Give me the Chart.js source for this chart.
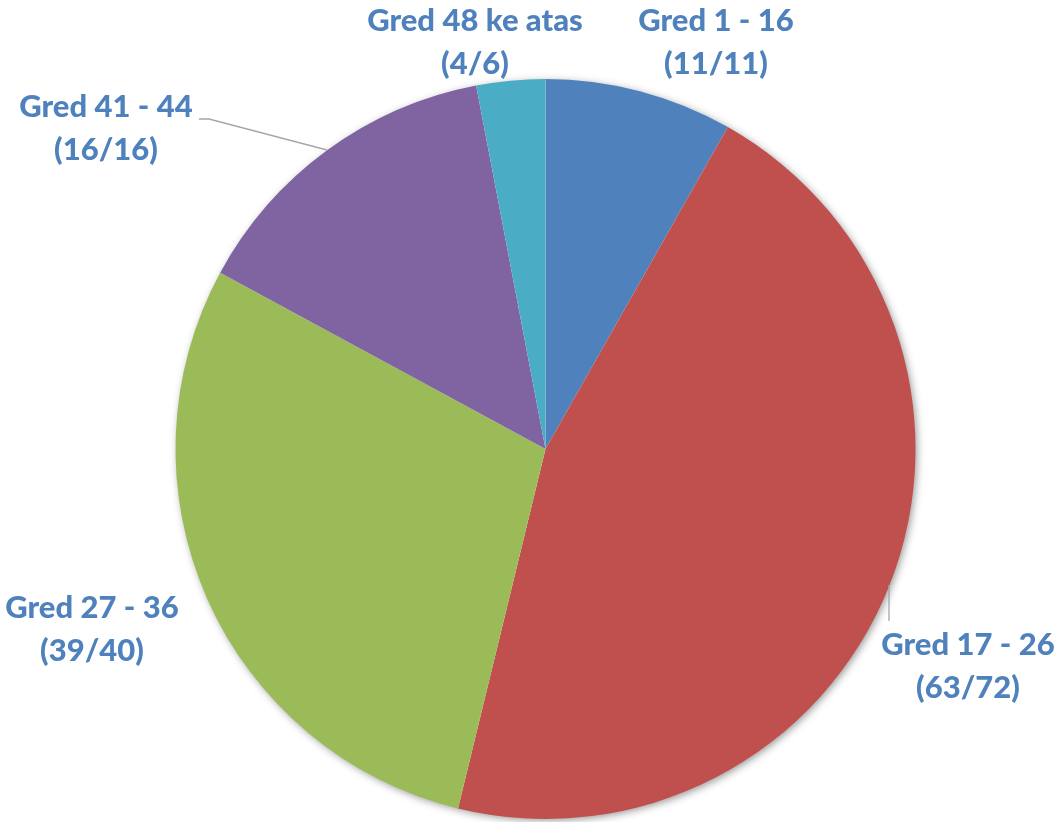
<!DOCTYPE html>
<html><head><meta charset="utf-8">
<script src="https://cdn.jsdelivr.net/npm/chart.js@4/dist/chart.umd.min.js"></script>
<style>html,body{margin:0;padding:0;background:#fff;}canvas{display:block;}</style>
</head><body>
<canvas id="c" width="1063" height="822"></canvas>
<script>
const categories = ["Gred 1 - 16", "Gred 17 - 26", "Gred 27 - 36", "Gred 41 - 44", "Gred 48 ke atas"];
const ratios = ["(11/11)", "(63/72)", "(39/40)", "(16/16)", "(4/6)"];
const values = [8.2, 45.6, 29.1, 14.1, 3.0];
const colors = ["#4F81BD", "#C0504D", "#9BBB59", "#8064A2", "#4BACC6"];

// label layout (text centres, line 1) and leader lines
const labelPos = [
  {x: 716, y: 21}, {x: 968, y: 645}, {x: 92, y: 608}, {x: 106, y: 107}, {x: 475, y: 21}
];
const leaders = {
  1: [[889, 621], [889, 585]],
  3: [[199, 119], [209, 119], [327, 150]]
};

const shadowPlugin = {
  id: 'shadow',
  beforeDatasetsDraw(chart) {
    const arc = chart.getDatasetMeta(0).data[0];
    if (!arc) return;
    const ctx = chart.ctx;
    ctx.save();
    ctx.shadowColor = 'rgba(0,0,0,0.45)';
    ctx.shadowBlur = 9;
    ctx.shadowOffsetX = 2;
    ctx.shadowOffsetY = 2;
    ctx.fillStyle = '#fff';
    ctx.beginPath();
    ctx.arc(arc.x, arc.y, arc.outerRadius - 1, 0, Math.PI * 2);
    ctx.fill();
    ctx.restore();
  }
};

const labelPlugin = {
  id: 'lbl',
  afterDatasetsDraw(chart) {
    const ctx = chart.ctx;
    ctx.save();
    ctx.strokeStyle = '#A6A6A6';
    ctx.lineWidth = 1.3;
    Object.keys(leaders).forEach(k => {
      const pts = leaders[k];
      ctx.beginPath();
      ctx.moveTo(pts[0][0], pts[0][1]);
      for (let i = 1; i < pts.length; i++) ctx.lineTo(pts[i][0], pts[i][1]);
      ctx.stroke();
    });
    ctx.fillStyle = '#4F81BD';
    ctx.font = '900 31px Lato, "Open Sans", sans-serif';
    ctx.textAlign = 'center';
    ctx.textBaseline = 'middle';
    categories.forEach((c, i) => {
      const p = labelPos[i];
      ctx.fillText(c, p.x, p.y);
      ctx.fillText(ratios[i], p.x, p.y + 43);
    });
    ctx.restore();
  }
};

new Chart(document.getElementById('c'), {
  type: 'pie',
  data: {
    labels: categories,
    datasets: [{
      data: values,
      backgroundColor: colors,
      borderWidth: 0
    }]
  },
  options: {
    responsive: false,
    animation: false,
    layout: { padding: { left: 175.5, top: 79, right: 147.5, bottom: 3 } },
    plugins: { legend: { display: false }, tooltip: { enabled: false } }
  },
  plugins: [shadowPlugin, labelPlugin]
});
</script>
</body></html>
